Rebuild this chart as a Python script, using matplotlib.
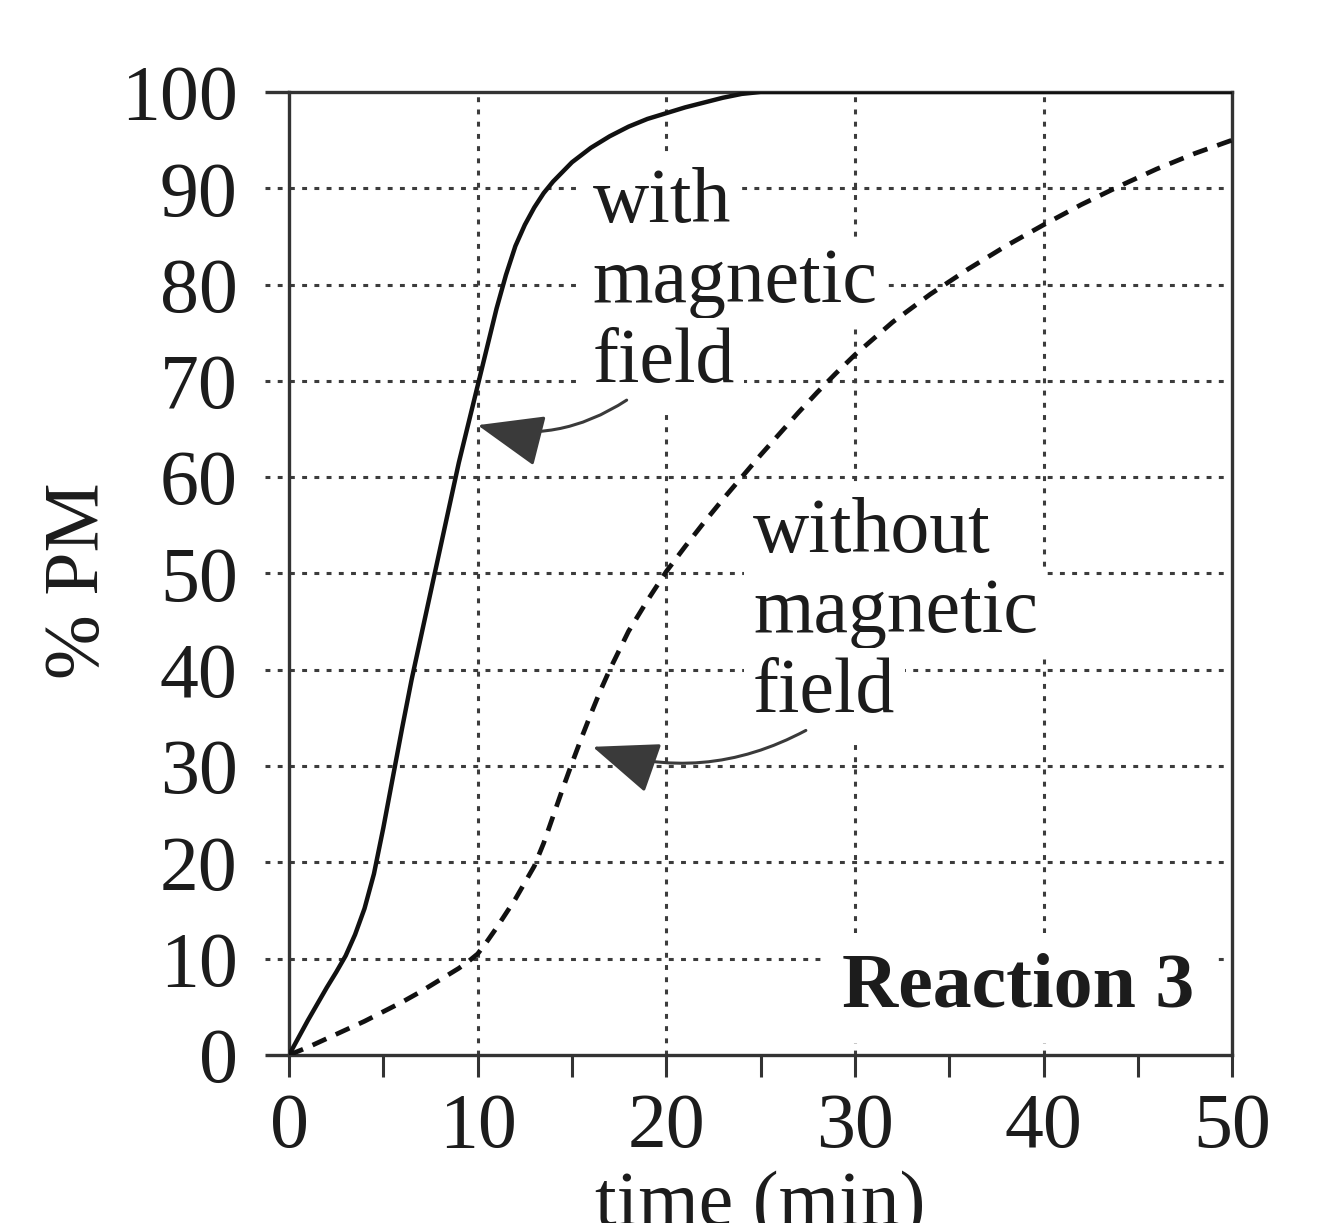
import matplotlib
matplotlib.use("Agg")
import matplotlib.pyplot as plt

# values
with_t = [0, 0.5, 1, 1.5, 2, 2.5, 3, 3.5, 4, 4.5, 5, 5.5, 6, 6.5, 7, 7.5, 8, 8.5, 9, 9.5,
          10, 10.5, 11, 11.5, 12, 12.5, 13, 13.5, 14, 15, 16, 17, 18, 19, 20, 21, 22, 23,
          24, 25, 30, 40, 50]
with_pm = [0, 1.8, 3.6, 5.3, 7, 8.6, 10.3, 12.5, 15.2, 18.8, 23.6, 28.8, 34, 39, 43.5, 48,
           52.5, 57, 61.5, 65.5, 69.5, 73.5, 77.5, 81, 84, 86.2, 88.0, 89.5, 90.7, 92.7,
           94.2, 95.4, 96.4, 97.2, 97.8, 98.4, 98.9, 99.4, 99.8, 100, 100, 100, 100]

without_t = [0, 1, 2, 3, 4, 5, 6, 7, 8, 9, 9.5, 10, 10.5, 11, 12, 12.5, 13, 13.5, 14, 14.5,
             15, 15.5, 16, 16.5, 17, 17.5, 18, 19, 20, 21, 22, 23, 24, 25, 26, 27, 28, 29,
             30, 32, 34, 36, 38, 40, 42, 44, 46, 48, 50]
without_pm = [0, 0.8, 1.7, 2.6, 3.5, 4.5, 5.5, 6.6, 7.8, 9.0, 9.7, 10.5, 11.8, 13.2, 16.2,
              17.9, 19.6, 22, 24.8, 27.6, 30.3, 32.9, 35.4, 37.8, 40, 42, 44, 47.2, 50.2,
              52.8, 55.3, 57.7, 60, 62.3, 64.5, 66.7, 68.8, 70.8, 72.7, 76.1, 79, 81.6, 84,
              86.2, 88.3, 90.2, 92, 93.6, 95]

x_major = [0, 10, 20, 30, 40, 50]
x_minor = [5, 15, 25, 35, 45]
y_ticks = [0, 10, 20, 30, 40, 50, 60, 70, 80, 90, 100]

label_with = ["with", "magnetic", "field"]
label_without = ["without", "magnetic", "field"]

INK = "#1c1c1c"
GRID = "#3c3c3c"
FS = 56

plt.rcParams["font.family"] = ["Liberation Serif", "DejaVu Serif"]

fig = plt.figure(figsize=(13.29, 12.23), dpi=100)
ax = fig.add_axes([0.2175, 0.1374, 0.7096, 0.7874])
ax.set_xlim(0, 50)
ax.set_ylim(0, 100)

for s in ax.spines.values():
    s.set_color("#333333")
    s.set_linewidth(2.4)

dots = (0, (1.6, 2.4))
# grid, with the y lines running out past the left spine as ticks
ax.vlines(x_major[1:-1], 0, 100, colors=GRID, linewidth=2.2, linestyles=[dots], zorder=0.5)
ax.hlines(y_ticks[1:-1], -1.3, 50, colors=GRID, linewidth=2.2, linestyles=[dots],
          zorder=0.5, clip_on=False)
ax.hlines([y_ticks[0], y_ticks[-1]], -1.3, 0, colors="#333333", linewidth=2.4, clip_on=False)

ax.plot(with_t, with_pm, color="#111111", linewidth=3.2, solid_capstyle="round",
        solid_joinstyle="round", zorder=3)
ax.plot(without_t, without_pm, color="#111111", linewidth=3.4, linestyle=(0, (3.2, 2.2)),
        zorder=3)

ax.set_xticks(x_major)
ax.set_xticks(x_minor, minor=True)
ax.set_xticklabels([str(v) for v in x_major])
ax.set_yticks(y_ticks)
ax.set_yticklabels([str(v) for v in y_ticks])
ax.tick_params(axis="x", which="both", direction="out", length=16, width=2.2,
               color="#333333", pad=11, labelsize=FS, labelcolor=INK)
ax.tick_params(axis="y", length=0, pad=37, labelsize=FS, labelcolor=INK)

ax.set_xlabel("time (min)", fontsize=FS, color=INK)
ax.xaxis.set_label_coords(0.5, -0.12)
ax.set_ylabel("% PM", fontsize=FS, color=INK)
ax.yaxis.set_label_coords(-0.185, 0.493)

box = dict(boxstyle="square,pad=0.12", facecolor="white", edgecolor="none")
for i, word in enumerate(label_with):
    ax.text(16.1, 86.5 - 8.3 * i, word, fontsize=FS, color=INK, ha="left",
            va="baseline", bbox=box, zorder=1.5)
for i, word in enumerate(label_without):
    ax.text(24.6, 52.2 - 8.3 * i, word, fontsize=FS, color=INK, ha="left",
            va="baseline", bbox=box, zorder=1.5)

ax.text(48.0, 5.0, "Reaction 3", fontsize=FS, fontweight="bold", color=INK,
        ha="right", va="baseline", bbox=dict(boxstyle="square,pad=0.25", facecolor="white",
                                              edgecolor="none"), zorder=1.5)

arrow = dict(arrowstyle="-|>,head_length=1.9,head_width=0.75", mutation_scale=22,
             color="#3a3a3a", linewidth=2.2, connectionstyle="arc3,rad=-0.22",
             shrinkA=0, shrinkB=0)
ax.annotate("", xy=(10.0, 65.4), xytext=(17.9, 68.0), arrowprops=arrow, zorder=4)
ax.annotate("", xy=(16.1, 32.0), xytext=(27.4, 33.7), arrowprops=arrow, zorder=4)

fig.savefig("out.png", dpi=100, facecolor="white")
